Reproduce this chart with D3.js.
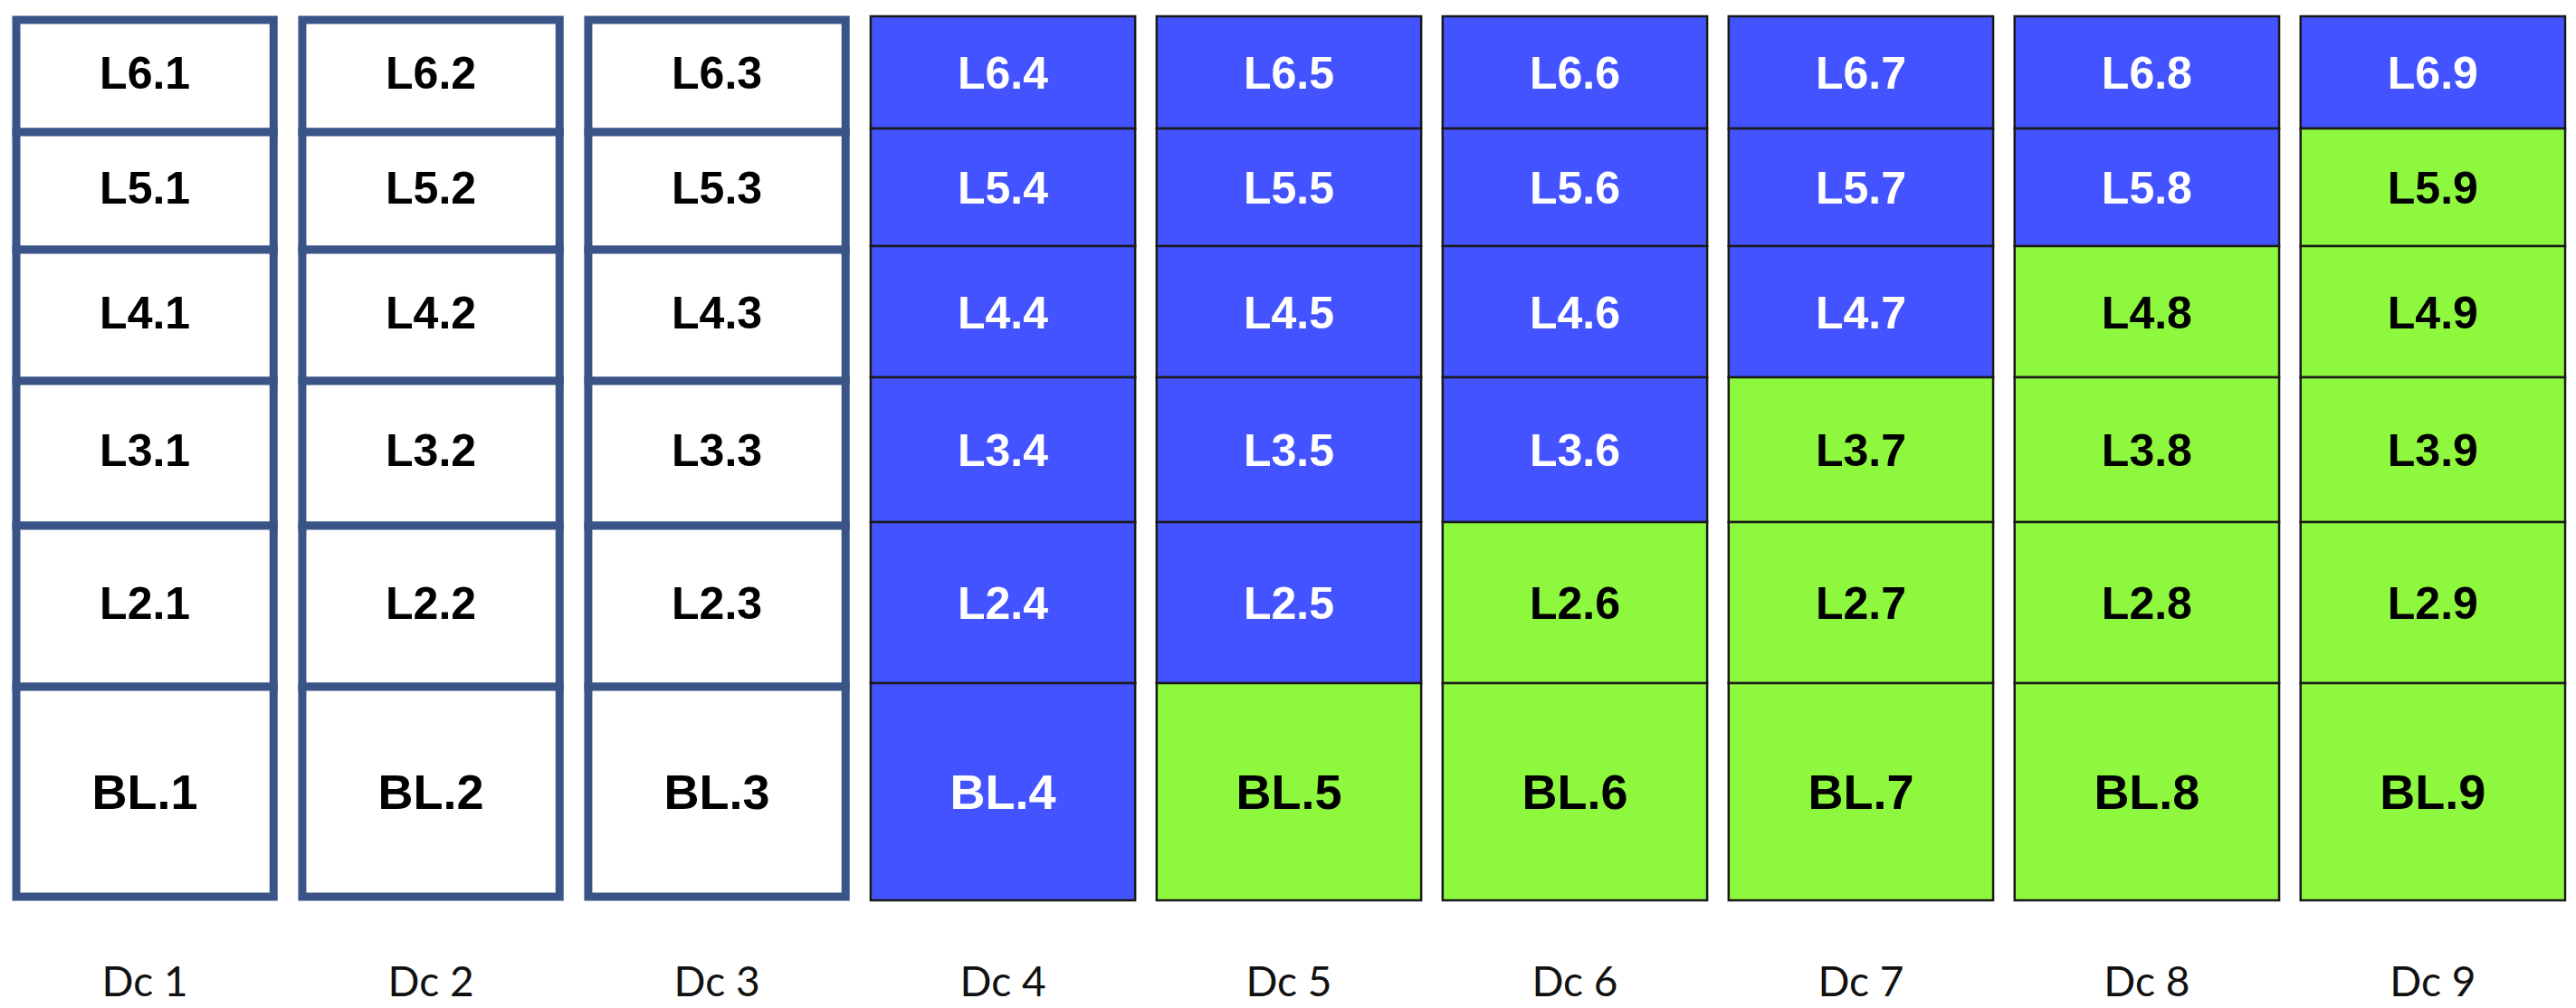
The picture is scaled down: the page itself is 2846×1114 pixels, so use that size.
<!DOCTYPE html>
<html lang="en">
<head>
<meta charset="UTF-8"/>
<script src="https://d3js.org/d3.v7.min.js"></script>
<style>
  body { margin:0; background:#fff; }
</style>
</head>
<body>
<script>
var width = 2846, height = 1114;

// columns and rows
var columns = ['Dc 1','Dc 2','Dc 3','Dc 4','Dc 5','Dc 6','Dc 7','Dc 8','Dc 9'];
var rows = ['L6','L5','L4','L3','L2','BL']; // top to bottom
// state per column: 'empty' = outlined white, else number of blue cells counted from the top
var colState = ['empty','empty','empty',6,5,4,3,2,1];

// relative row heights, top to bottom
var rowSpan = [124,130,145,160,178,240];

var svg = d3.select('body').append('svg')
  .attr('width', width).attr('height', height);

var x = d3.scaleBand().domain(columns).range([14, 2834]).paddingInner(0.075);

var cum = [0];
rowSpan.forEach(function(h){ cum.push(cum[cum.length-1] + h); });
var y = d3.scaleLinear().domain([0, cum[cum.length-1]]).range([18, 995]);

var cells = [];
columns.forEach(function(c, ci){
  rows.forEach(function(r, ri){
    var st = colState[ci];
    var kind = st === 'empty' ? 'empty' : (ri < st ? 'blue' : 'green');
    cells.push({col:c, ci:ci, ri:ri, label: r + '.' + (ci+1), kind: kind});
  });
});

var fill = {empty:'#ffffff', blue:'#4353ff', green:'#8ef83f'};
var txt = {empty:'#000', blue:'#fff', green:'#000'};

var g = svg.selectAll('g.cell').data(cells).enter().append('g').attr('class','cell');

g.append('rect')
  .attr('x', function(d){ return x(d.col) + (d.kind==='empty' ? 4 : 0); })
  .attr('y', function(d){ return y(cum[d.ri]) + (d.kind==='empty' ? 4 : 0); })
  .attr('width', function(d){ return x.bandwidth() - (d.kind==='empty' ? 8 : 0); })
  .attr('height', function(d){ return y(cum[d.ri+1]) - y(cum[d.ri]) - (d.kind==='empty' ? (d.ri===5 ? 8 : 0) : 0); })
  .attr('fill', function(d){ return fill[d.kind]; })
  .attr('stroke', function(d){ return d.kind==='empty' ? '#3a5488' : '#1a1a1a'; })
  .attr('stroke-width', function(d){ return d.kind==='empty' ? 9 : 2.5; });

g.append('text')
  .attr('x', function(d){ return x(d.col) + x.bandwidth()/2; })
  .attr('y', function(d){ return (y(cum[d.ri]) + y(cum[d.ri+1]))/2; })
  .attr('dy', '0.36em')
  .attr('text-anchor', 'middle')
  .attr('font-family', 'Liberation Sans, Arial, sans-serif')
  .attr('font-weight', 'bold')
  .attr('font-size', function(d){ return d.ri===5 ? 54 : 50; })
  .attr('fill', function(d){ return txt[d.kind]; })
  .text(function(d){ return d.label; });

svg.selectAll('text.col').data(columns).enter().append('text')
  .attr('class','col')
  .attr('x', function(d){ return x(d) + x.bandwidth()/2; })
  .attr('y', 1084)
  .attr('dy', '0.36em')
  .attr('text-anchor', 'middle')
  .attr('font-family', 'Lato, Open Sans, sans-serif')
  .attr('font-size', 46)
  .attr('fill', '#111')
  .text(function(d){ return d; });
</script>
</body>
</html>
